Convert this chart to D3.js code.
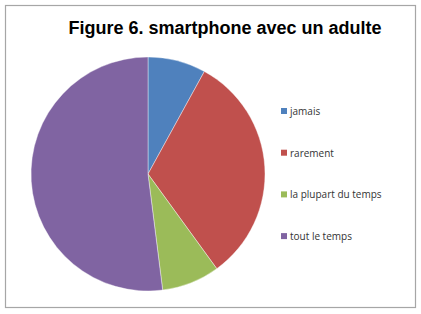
<!DOCTYPE html>
<html>
<head>
<meta charset="utf-8">
<script src="https://cdn.jsdelivr.net/npm/d3@7"></script>
<style>
  body { margin: 0; background: #fff; }
</style>
</head>
<body>
<svg id="chart" width="421" height="314"></svg>
<script>
const categories = ["jamais", "rarement", "la plupart du temps", "tout le temps"]
const values = [8, 32, 8, 52]
const colors = ["#4F81BD", "#C0504D", "#9BBB59", "#8064A2"]

const svg = d3.select("#chart")

// chart frame
svg.append("rect")
  .attr("x", 5.5).attr("y", 5.5)
  .attr("width", 410).attr("height", 302)
  .attr("fill", "#fff")
  .attr("stroke", "#a6a6a6")
  .attr("stroke-width", 1.2)

svg.append("text")//title
  .attr("x", 225)
  .attr("y", 34)
  .attr("text-anchor", "middle")
  .style("font-family", "Liberation Sans, Arial, sans-serif")
  .style("font-weight", "bold")
  .style("font-size", "18px")
  .style("fill", "#000")
  .text("Figure 6. smartphone avec un adulte")

const pie = d3.pie().sort(null).value(d => d)
const arc = d3.arc().innerRadius(0).outerRadius(117)

const g = svg.append("g")
  .attr("transform", "translate(148,174)")

g.selectAll("path")
  .data(pie(values))
  .enter().append("path")
  .attr("d", arc)
  .attr("fill", (d, i) => colors[i])
  .attr("stroke", "#fff")
  .attr("stroke-width", 0.4)

const legend = svg.append("g")
  .selectAll("g")
  .data(categories)
  .enter().append("g")
  .attr("transform", (d, i) => "translate(281," + (111 + i * 41.7) + ")")

legend.append("rect")
  .attr("x", 0).attr("y", -3)
  .attr("width", 6).attr("height", 6)
  .attr("fill", (d, i) => colors[i])

legend.append("text")
  .attr("x", 9)
  .attr("y", 3.8)
  .style("font-family", "Open Sans, sans-serif")
  .style("font-size", "10px")
  .style("fill", "#333")
  .text(d => d)
</script>
</body>
</html>
